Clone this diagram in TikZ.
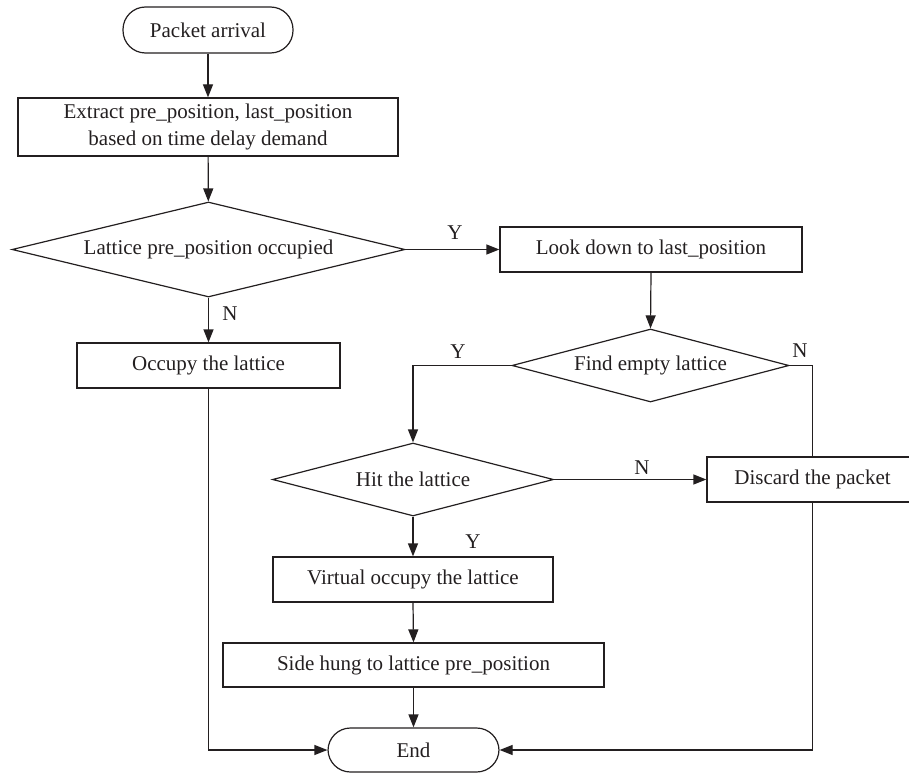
\documentclass[tikz,border=0pt]{standalone}
\usepackage{fontspec}
\setmainfont{Liberation Serif}
\usetikzlibrary{shapes.geometric,arrows.meta}
\definecolor{ink}{RGB}{35,31,32}
\begin{document}
\begin{tikzpicture}[x=1pt,y=-1pt,
  every node/.style={font=\fontsize{21}{27}\selectfont, text=ink},
  box/.style={draw=ink, line width=1.2pt, rectangle, inner sep=0pt, align=center},
  term/.style={box, rounded corners=22.5pt},
  dec/.style={draw=ink, line width=1.2pt, diamond, inner sep=0pt, shape aspect=4},
  conn/.style={draw=ink, line width=1.2pt},
  arr/.style={conn, -{Triangle[length=13pt,width=10pt]}},
  lbl/.style={inner sep=0pt}
]
\useasboundingbox (0,0) rectangle (909,773);

\node[term, minimum width=170pt, minimum height=46pt] (start) at (208,30) {Packet arrival};
\node[box, minimum width=380pt, minimum height=58pt] (extract) at (208,127) {Extract pre\_position, last\_position\\based on time delay demand};
\node[dec, minimum width=393pt, minimum height=95pt] (d1) at (208.5,249.5) {Lattice pre\_position occupied};
\node[box, minimum width=302pt, minimum height=45pt] (look) at (651,249.5) {Look down to last\_position};
\node[box, minimum width=263pt, minimum height=45pt] (occ) at (208.5,365.5) {Occupy the lattice};
\node[dec, minimum width=277pt, minimum height=73pt] (d2) at (650.5,365.5) {Find empty lattice};
\node[dec, minimum width=281pt, minimum height=73pt] (hit) at (413,479.5) {Hit the lattice};
\node[box, minimum width=211pt, minimum height=45pt] (disc) at (812.5,479.5) {Discard the packet};
\node[box, minimum width=280pt, minimum height=45pt] (virt) at (413,579.5) {Virtual occupy the lattice};
\node[box, minimum width=381pt, minimum height=44pt] (side) at (413.5,665) {Side hung to lattice pre\_position};
\node[term, minimum width=171pt, minimum height=44pt] (end) at (413.5,750) {End};

\coordinate (c1) at (413,365.5);
\coordinate (c2) at (812.5,365.5);
\coordinate (c3) at (208.5,750);
\coordinate (c4) at (812.5,750);

\draw[arr] (start) -- (extract);
\draw[arr] (extract) -- (d1);
\draw[arr] (d1.east) -- (look.west);
\draw[arr] (d1.south) -- (occ.north);
\draw[arr] (look.south) -- (d2.north);
\draw[arr] (d2.west) -- (c1) -- (hit.north);
\draw[conn] (d2.east) -- (c2) -- (disc.north);
\draw[arr] (hit.east) -- (disc.west);
\draw[arr] (hit.south) -- (virt.north);
\draw[arr] (virt.south) -- (side.north);
\draw[arr] (side.south) -- (end.north);
\draw[arr] (occ.south) -- (c3) -- (end.west);
\draw[arr] (disc.south) -- (c4) -- (end.east);

\node[lbl] (ly1) at (455,233) {Y};
\node[lbl] (ln1) at (230,314) {N};
\node[lbl] (ly2) at (458,352) {Y};
\node[lbl] (ln2) at (800,351) {N};
\node[lbl] (ln3) at (642,468) {N};
\node[lbl] (ly3) at (473,542) {Y};
\end{tikzpicture}
\end{document}
